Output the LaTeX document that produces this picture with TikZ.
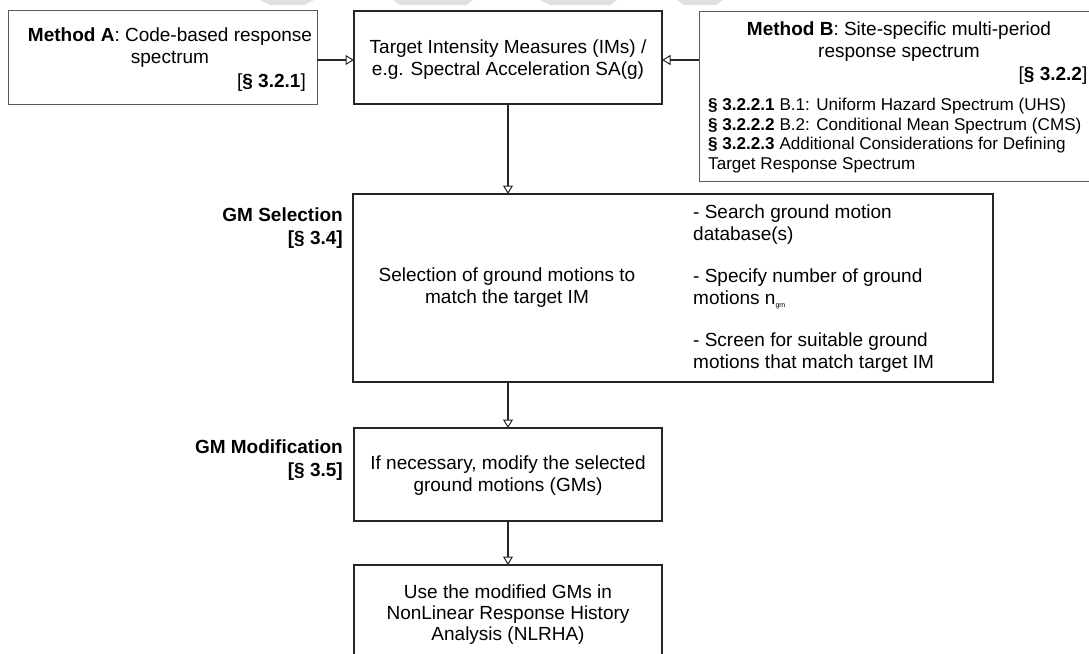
\documentclass[tikz,border=0pt]{standalone}
\usepackage{fontspec}
\setmainfont{Liberation Sans}
\usetikzlibrary{arrows.meta}
\begin{document}
\begin{tikzpicture}[x=1pt,y=-1pt,
  box/.style={draw=black!85,line width=1.5pt,fill=none,inner sep=0pt,outer sep=0pt},
  lightbox/.style={draw=black!65,line width=1pt,fill=none,inner sep=0pt,outer sep=0pt},
  txt/.style={font=\fontsize{19}{22}\selectfont,align=center,inner sep=0pt},
  smalltxt/.style={font=\fontsize{17.1}{19.5}\selectfont,align=left,inner sep=0pt},
  sidelabel/.style={font=\fontsize{19}{23}\selectfont\bfseries,align=right,inner sep=0pt,anchor=east},
  conn/.style={draw=black!85,line width=1.2pt,-{Triangle[open,length=8.5pt,width=10pt,line width=1pt]}},
  wm/.style={fill=black!12,draw=none}]
\clip (0,0) rectangle (1089,653);
\fill[white] (0,0) rectangle (1089,653);
% faint watermark at the top
\fill[wm] (260,0) -- (314,0) -- (304,5) -- (270,5) -- cycle;
\fill[wm] (393,0) -- (473,0) -- (466,5) -- (400,5) -- cycle;
\fill[wm] (540,0) -- (617,0) -- (610,5) -- (550,5) -- cycle;
\fill[wm] (677,0) -- (723,0) -- (716,5) -- (684,5) -- cycle;

% boxes
\node[lightbox,minimum width=309pt,minimum height=94pt] (ma) at (162.5,57) {};
\node[box,minimum width=308pt,minimum height=93pt] (tgt) at (508,57.5) {};
\node[lightbox,minimum width=400pt,minimum height=170pt] (mb) at (899,96) {};
\node[box,minimum width=640pt,minimum height=188pt] (gs) at (673,288) {};
\node[box,minimum width=308pt,minimum height=93pt] (gm) at (508,474.5) {};
\node[box,minimum width=308pt,minimum height=115pt] (use) at (508,622.5) {};

% texts
\node[txt] (maT) at (170,47.5) {\textbf{Method A}: Code-based response\\spectrum};
\node[txt,anchor=east] (maS) at (306,83) {[\textbf{§ 3.2.1}]};
\node[txt] (tgtT) at (508,60) {Target Intensity Measures (IMs) /\\e.g. Spectral Acceleration SA(g)};
\node[txt] (mbT) at (899,42) {\textbf{Method B}: Site-specific multi-period\\response spectrum};
\node[txt,anchor=east] (mbS) at (1087.5,76) {[\textbf{§ 3.2.2}]};
\node[smalltxt,anchor=west] (mbL) at (708,135.5) {\textbf{§ 3.2.2.1} B.1: Uniform Hazard Spectrum (UHS)\\
\textbf{§ 3.2.2.2} B.2: Conditional Mean Spectrum (CMS)\\
\textbf{§ 3.2.2.3} Additional Considerations for Defining\\
Target Response Spectrum};
\node[txt] (gsT) at (507,288) {Selection of ground motions to\\match the target IM};
\node[txt,align=left,anchor=west] (gsL) at (693,289) {- Search ground motion\\database(s)\\[20pt]
- Specify number of ground\\motions n\raisebox{-3pt}{\fontsize{7}{7}\selectfont gm}\\[20pt]
- Screen for suitable ground\\motions that match target IM};
\node[sidelabel] (gsLab) at (343,228.5) {GM Selection\\{[§ 3.4]}};
\node[txt] (gmT) at (508,476) {If necessary, modify the selected\\ground motions (GMs)};
\node[sidelabel] (gmLab) at (343,460.5) {GM Modification\\{[§ 3.5]}};
\node[txt,font=\fontsize{19}{21}\selectfont] (useT) at (508,615) {Use the modified GMs in\\NonLinear Response History\\Analysis (NLRHA)};

% connectors
\draw[conn] (ma.east |- 0,60) -- (tgt.west |- 0,60);
\draw[conn] (mb.west |- 0,60) -- (tgt.east |- 0,60);
\draw[conn] (tgt.south) -- (gs.north -| tgt.south);
\draw[conn] (gs.south -| gm.north) -- (gm.north);
\draw[conn] (gm.south) -- (use.north);
\end{tikzpicture}
\end{document}
